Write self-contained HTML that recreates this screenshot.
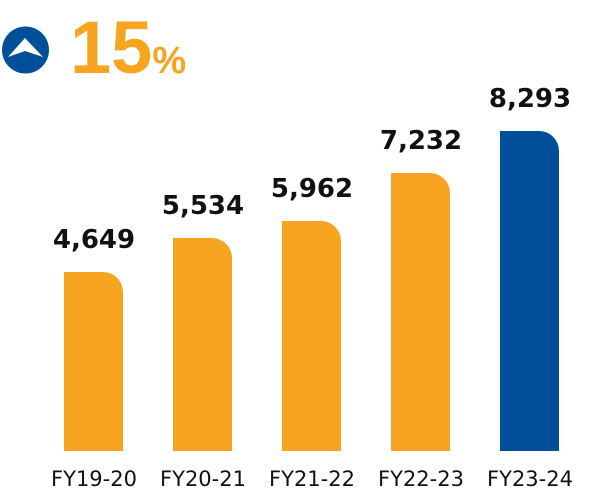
<!DOCTYPE html>
<html><head><meta charset="utf-8"><style>
html,body{margin:0;padding:0;background:#fff;}
body{width:604px;height:493px;position:relative;overflow:hidden;font-family:"DejaVu Sans","Liberation Sans",sans-serif;}
.bar{position:absolute;background:#f7a521;border-radius:0 20px 0 0;width:59px;bottom:42px;}
.val{position:absolute;font-weight:bold;font-size:26px;line-height:30px;color:#111;width:140px;text-align:center;}
.cat{position:absolute;font-size:21px;line-height:25px;color:#111;width:140px;text-align:center;top:467px;}
</style></head><body>
<svg style="position:absolute;left:0;top:0" width="60" height="80">
<circle cx="25.5" cy="50" r="23.5" fill="#004f99"/>
<path d="M8 57 L25 38 L43 57 L25 51 Z" fill="#fff"/>
</svg>
<div style="position:absolute;left:70px;top:6px;font-family:'Liberation Sans',sans-serif;font-weight:bold;font-size:74px;line-height:84px;color:#f7a521;">15<span style="font-size:38px;">%</span></div>

<div class="bar" style="left:64px;height:179px"></div>
<div class="bar" style="left:173px;height:213px"></div>
<div class="bar" style="left:282px;height:230px"></div>
<div class="bar" style="left:391px;height:278px"></div>
<div class="bar" style="left:500px;height:320px;background:#004f99"></div>

<div class="val" style="left:24px;top:225px">4,649</div>
<div class="val" style="left:133px;top:191px">5,534</div>
<div class="val" style="left:242px;top:174px">5,962</div>
<div class="val" style="left:351px;top:126px">7,232</div>
<div class="val" style="left:460px;top:84px">8,293</div>

<div class="cat" style="left:24px">FY19-20</div>
<div class="cat" style="left:133px">FY20-21</div>
<div class="cat" style="left:242px">FY21-22</div>
<div class="cat" style="left:351px">FY22-23</div>
<div class="cat" style="left:460px">FY23-24</div>
</body></html>
